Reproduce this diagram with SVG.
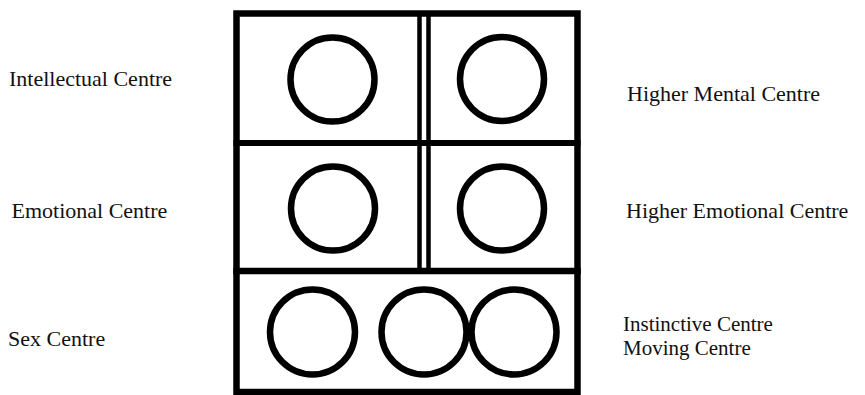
<svg xmlns="http://www.w3.org/2000/svg" width="865" height="395" viewBox="0 0 865 395">
<style>
.ln{fill:none;stroke:#000;stroke-linecap:square}
.c{fill:none;stroke:#000;stroke-width:6.5}
.t{font-family:"Liberation Serif","Times New Roman",serif;font-size:22px;fill:#111}
.s{font-size:21px}
</style>
<rect width="865" height="395" fill="#fff"/>
<g id="frame">
<rect class="ln" x="236.5" y="13.5" width="341" height="378.5" stroke-width="6.5"/>
<line class="ln" x1="236.5" y1="143" x2="577.5" y2="143" stroke-width="6"/>
<line class="ln" x1="236.5" y1="271" x2="577.5" y2="271" stroke-width="6.5"/>
<line class="ln" x1="419.5" y1="13.5" x2="419.5" y2="271" stroke-width="4.5"/>
<line class="ln" x1="428.5" y1="13.5" x2="428.5" y2="271" stroke-width="4.5"/>
</g>
<g id="intellectual"><circle class="c" cx="332.5" cy="79.5" r="42"/><text class="t" x="9" y="86">Intellectual Centre</text></g>
<g id="higher-mental"><circle class="c" cx="502" cy="79" r="42"/><text class="t" x="627" y="101">Higher Mental Centre</text></g>
<g id="emotional"><circle class="c" cx="333" cy="208.5" r="42"/><text class="t" x="11.5" y="218">Emotional Centre</text></g>
<g id="higher-emotional"><circle class="c" cx="502" cy="208.5" r="42"/><text class="t" x="626" y="218">Higher Emotional Centre</text></g>
<g id="sex"><circle class="c" cx="312.5" cy="332" r="42.5"/><text class="t" x="8" y="346">Sex Centre</text></g>
<g id="instinctive"><circle class="c" cx="424" cy="332" r="42.5"/><text class="t s" x="623" y="331">Instinctive Centre</text></g>
<g id="moving"><circle class="c" cx="514" cy="332" r="42.5"/><text class="t s" x="623" y="355">Moving Centre</text></g>
<g id="connectors"></g>
</svg>
